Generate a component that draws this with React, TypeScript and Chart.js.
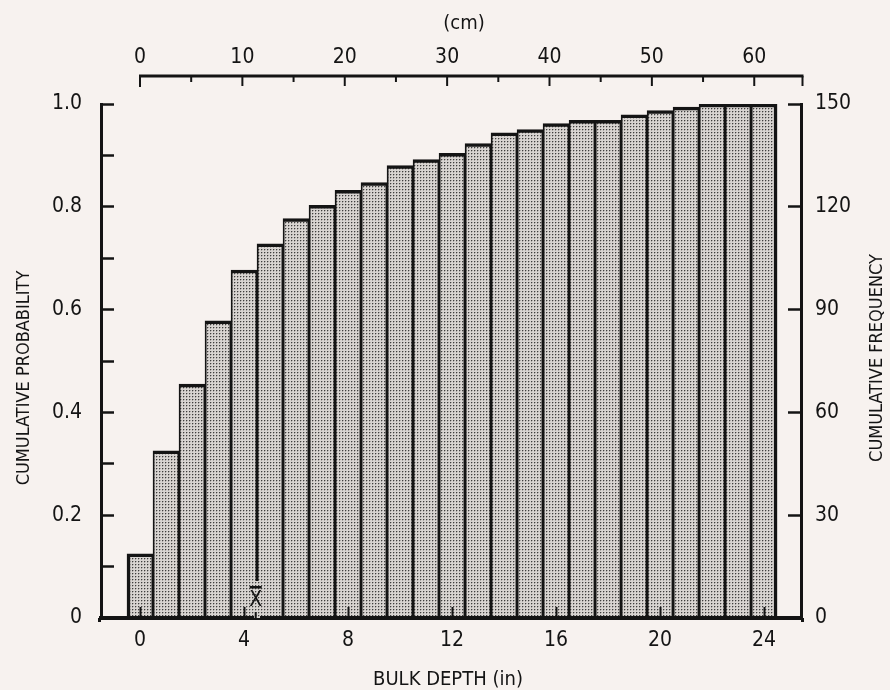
import React, { useEffect, useRef } from 'react';
import { Chart, registerables } from 'chart.js';

Chart.register(...registerables);

// ---------- data ----------
const depthInches = [0, 1, 2, 3, 4, 5, 6, 7, 8, 9, 10, 11, 12, 13, 14, 15, 16, 17, 18, 19, 20, 21, 22, 23, 24];
const cumulativeProbability = [
  0.125, 0.325, 0.455, 0.578, 0.677, 0.728, 0.777, 0.803, 0.832, 0.847, 0.88, 0.892, 0.904,
  0.923, 0.944, 0.95, 0.962, 0.968, 0.968, 0.979, 0.987, 0.994, 1.0, 1.0, 1.0,
];
const meanDepthIn = 4.45;

// axis ranges / ticks
const inchMin = -1.5;
const inchMax = 25.42;
const inchTickStep = 4;
const cmPerInch = 2.54;
const cmTickStep = 5;
const cmLabelStep = 10;
const probMin = 0;
const probMax = 1;
const probTickStep = 0.1;
const freqMin = 0;
const freqMax = 150;
const freqTickStep = 30;

// texts
const xTitle = 'BULK DEPTH (in)';
const topTitle = '(cm)';
const yLeftTitle = 'CUMULATIVE PROBABILITY';
const yRightTitle = 'CUMULATIVE FREQUENCY';
const meanLabel = 'X';

// ---------- style ----------
const FONT = '"Liberation Sans Narrow", "DejaVu Sans Condensed", "Arial Narrow", "Liberation Sans", sans-serif';
const INK = '#141414';
const BG = '#f7f2ef';
const W = 890;
const H = 690;

function makePattern(): CanvasPattern | string {
  const c = document.createElement('canvas');
  c.width = 3;
  c.height = 3;
  const g = c.getContext('2d');
  if (!g) return '#c4c0bd';
  g.fillStyle = '#d8d4d1';
  g.fillRect(0, 0, 3, 3);
  g.fillStyle = '#3e3e3e';
  g.fillRect(0, 0, 1, 1);
  g.fillStyle = '#aaa6a3';
  g.fillRect(1, 0, 1, 1);
  g.fillRect(0, 1, 1, 1);
  const p = g.createPattern(c, 'repeat');
  return p || '#c4c0bd';
}

export default function App() {
  const ref = useRef<HTMLCanvasElement | null>(null);

  useEffect(() => {
    const canvas = ref.current;
    if (!canvas) return;
    const pattern = makePattern();

    const decor = {
      id: 'decor',
      beforeDraw(chart: any) {
        const { ctx } = chart;
        ctx.save();
        ctx.fillStyle = BG;
        ctx.fillRect(0, 0, chart.width, chart.height);
        ctx.restore();
      },
      afterDraw(chart: any) {
        const { ctx, chartArea: area } = chart;
        const xs = chart.scales.x;
        const cm = chart.scales.xcm;
        const ys = chart.scales.y;
        ctx.save();
        ctx.strokeStyle = INK;
        ctx.fillStyle = INK;

        // top (cm) axis line with downward ticks
        const axisY = 76;
        const xStart = cm.getPixelForValue(0);
        const xEnd = area.right + 1.5;
        ctx.lineWidth = 3;
        ctx.beginPath();
        ctx.moveTo(xStart - 1, axisY);
        ctx.lineTo(xEnd + 1, axisY);
        ctx.stroke();
        ctx.lineWidth = 2;
        cm.ticks.forEach((t: any) => {
          const px = cm.getPixelForValue(t.value);
          const major = Math.round(t.value) % cmLabelStep === 0;
          const len = t.value === 0 ? 11 : major ? 10 : 6;
          ctx.beginPath();
          ctx.moveTo(px, axisY);
          ctx.lineTo(px, axisY + len);
          ctx.stroke();
        });
        ctx.beginPath();
        ctx.moveTo(xEnd, axisY);
        ctx.lineTo(xEnd, axisY + 10);
        ctx.stroke();

        // corners of the frame
        const y0 = ys.getPixelForValue(0);
        ctx.fillRect(area.left - 3, y0, 3, 4);
        ctx.fillRect(area.right, y0, 3, 4);

        // mean marker
        const bx = xs.getPixelForValue(4.5);
        const mx = xs.getPixelForValue(meanDepthIn);
        ctx.fillStyle = pattern as any;
        ctx.fillRect(bx - 3, y0 - 37, 6, 37);
        ctx.fillStyle = INK;
        ctx.font = `21px ${FONT}`;
        ctx.textAlign = 'center';
        ctx.textBaseline = 'middle';
        ctx.fillText(meanLabel, mx, y0 - 17);
        ctx.fillRect(mx - 6, y0 - 32, 12, 2.5);
        ctx.fillRect(mx - 1, y0 - 6, 2, 6);

        // titles
        ctx.font = `20px ${FONT}`;
        ctx.fillText(xTitle, 448, 680);
        ctx.fillText(topTitle, 464, 24);
        ctx.font = `18px ${FONT}`;
        ctx.save();
        ctx.translate(24, 378);
        ctx.rotate(-Math.PI / 2);
        ctx.fillText(yLeftTitle, 0, 0);
        ctx.restore();
        ctx.save();
        ctx.translate(877, 358);
        ctx.rotate(-Math.PI / 2);
        ctx.fillText(yRightTitle, 0, 0);
        ctx.restore();
        ctx.restore();
      },
    };

    const tickFont = { family: FONT, size: 21 };

    const chart = new Chart(canvas, {
      type: 'bar',
      data: {
        datasets: [
          {
            data: depthInches.map((x, i) => ({ x, y: cumulativeProbability[i] })),
            backgroundColor: pattern as any,
            borderColor: INK,
            borderWidth: (c: any) => ({
              top: 3.5,
              bottom: 0,
              left: c.dataIndex === 0 ? 3.5 : 1.8,
              right: c.dataIndex === depthInches.length - 1 ? 3.5 : 1.8,
            }),
            borderSkipped: 'bottom',
            barPercentage: 1,
            categoryPercentage: 1,
            xAxisID: 'x',
            yAxisID: 'y',
          } as any,
        ],
      },
      options: {
        animation: false,
        responsive: false,
        devicePixelRatio: 1,
        layout: { padding: 0 },
        plugins: { legend: { display: false }, tooltip: { enabled: false }, title: { display: false } },
        scales: {
          x: {
            type: 'linear',
            position: 'bottom',
            min: inchMin,
            max: inchMax,
            offset: false,
            grid: {
              display: true,
              offset: false,
              drawOnChartArea: false,
              drawTicks: true,
              tickLength: -11,
              tickWidth: 2,
              tickColor: INK,
              z: 1,
            },
            border: { display: true, color: INK, width: 4, z: 1 },
            ticks: {
              stepSize: inchTickStep,
              includeBounds: false,
              autoSkip: false,
              maxRotation: 0,
              padding: 21,
              color: INK,
              font: tickFont,
              callback: (v: any) => String(v),
            },
            afterFit: (s: any) => {
              s.height = H - 618;
            },
          },
          xcm: {
            type: 'linear',
            position: 'top',
            min: inchMin * cmPerInch,
            max: inchMax * cmPerInch,
            offset: false,
            grid: { display: false, drawTicks: false, drawOnChartArea: false },
            border: { display: false },
            ticks: {
              stepSize: cmTickStep,
              includeBounds: false,
              autoSkip: false,
              maxRotation: 0,
              padding: 34,
              color: INK,
              font: tickFont,
              callback: (v: any) => (v >= 0 && Math.round(v) % cmLabelStep === 0 ? String(v) : ''),
            },
            afterFit: (s: any) => {
              s.height = 104;
            },
          },
          y: {
            type: 'linear',
            position: 'left',
            min: probMin,
            max: probMax,
            grid: {
              display: true,
              drawOnChartArea: false,
              drawTicks: true,
              tickLength: -13,
              tickWidth: 2.5,
              tickColor: INK,
              z: 1,
            },
            border: { display: true, color: INK, width: 3, z: 1 },
            ticks: {
              stepSize: probTickStep,
              autoSkip: false,
              padding: 32,
              color: INK,
              font: tickFont,
              callback: (v: any) => {
                const k = Math.round(v * 10);
                if (k % 2 !== 0) return '';
                return k === 0 ? '0' : (k / 10).toFixed(1);
              },
            },
            afterFit: (s: any) => {
              s.width = 101;
            },
          },
          y2: {
            type: 'linear',
            position: 'right',
            min: freqMin,
            max: freqMax,
            grid: {
              display: true,
              drawOnChartArea: false,
              drawTicks: true,
              tickLength: -13,
              tickWidth: 2.5,
              tickColor: INK,
              z: 1,
            },
            border: { display: true, color: INK, width: 3, z: 1 },
            ticks: {
              stepSize: freqTickStep,
              autoSkip: false,
              padding: 27,
              color: INK,
              font: tickFont,
              callback: (v: any) => String(v),
            },
            afterFit: (s: any) => {
              s.width = W - 801;
            },
          },
        },
      } as any,
      plugins: [decor as any],
    });

    return () => {
      chart.destroy();
    };
  }, []);

  return (
    <div style={{ position: 'absolute', left: 0, top: 0, width: W, height: H }}>
      <canvas ref={ref} width={W} height={H} style={{ display: 'block' }} />
    </div>
  );
}
